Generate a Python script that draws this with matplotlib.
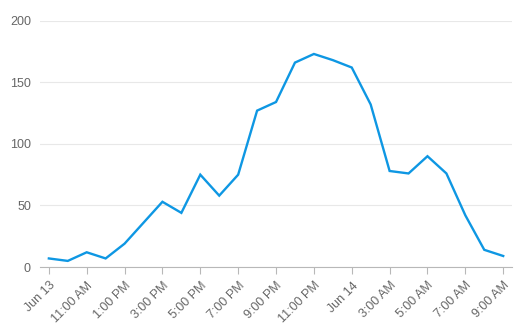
import matplotlib
matplotlib.use("Agg")
import matplotlib.pyplot as plt
import pandas as pd

plt.rcParams["font.family"] = ["Liberation Sans", "DejaVu Sans"]

# hourly counts, Jun 13 9:00 AM -> Jun 14 9:00 AM
times = pd.date_range("2023-06-13 09:00", "2023-06-14 09:00", freq="h")
values = [7, 5, 12, 7, 19, 36, 53, 44, 75, 58, 75, 127, 134,
          166, 173, 168, 162, 132, 78, 76, 90, 76, 42, 14, 9]
tick_times = times[::2]
tick_labels = ["Jun 13", "11:00 AM", "1:00 PM", "3:00 PM", "5:00 PM", "7:00 PM",
               "9:00 PM", "11:00 PM", "Jun 14", "3:00 AM", "5:00 AM", "7:00 AM",
               "9:00 AM"]
y_ticks = [0, 50, 100, 150, 200]

fig = plt.figure(figsize=(5.21, 3.33), dpi=100)
ax = fig.add_axes([0.0768, 0.198, 0.906, 0.7398])

ax.plot(times, values, color="#0e97e3", lw=1.7, solid_joinstyle="miter")

pad = pd.Timedelta(minutes=28)
ax.set_xlim(times[0] - pad, times[-1] + pad)
ax.set_ylim(0, 200)

ax.set_yticks(y_ticks)
ax.grid(axis="y", color="#e8e8e8", lw=0.8)
ax.set_axisbelow(True)

ax.set_xticks(tick_times)
ax.set_xticklabels(tick_labels, rotation=45, ha="right", rotation_mode="anchor")

for s in ["top", "right", "left"]:
    ax.spines[s].set_visible(False)
ax.spines["bottom"].set_color("#b8b8b8")
ax.tick_params(axis="y", length=0, pad=6.5, labelsize=9, labelcolor="#666666")
ax.tick_params(axis="x", length=5, color="#b8b8b8", pad=4, labelsize=9,
               labelcolor="#666666")

fig.savefig("out.png", dpi=100)
